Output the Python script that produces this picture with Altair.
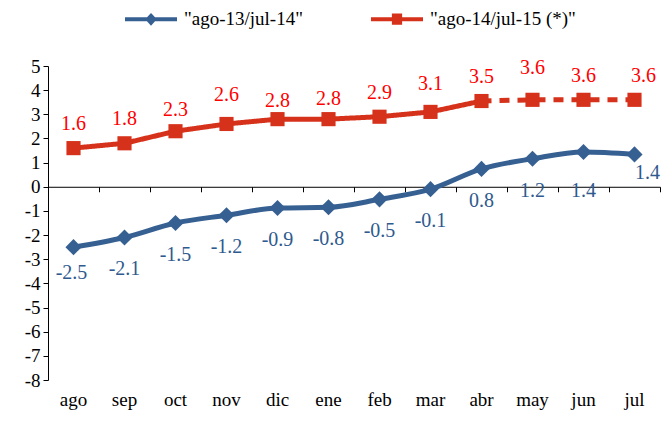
import altair as alt
import pandas as pd

months = ["ago", "sep", "oct", "nov", "dic", "ene", "feb", "mar", "abr", "may", "jun", "jul"]
series_names = ['"ago-13/jul-14"', '"ago-14/jul-15 (*)"']
blue_values = [-2.5, -2.1, -1.5, -1.18, -0.88, -0.85, -0.52, -0.1, 0.74, 1.16, 1.44, 1.34]
blue_labels = ["-2.5", "-2.1", "-1.5", "-1.2", "-0.9", "-0.8", "-0.5", "-0.1", "0.8", "1.2", "1.4", "1.4"]
red_values = [1.6, 1.8, 2.3, 2.6, 2.8, 2.8, 2.9, 3.1, 3.55, 3.6, 3.6, 3.6]
red_labels = ["1.6", "1.8", "2.3", "2.6", "2.8", "2.8", "2.9", "3.1", "3.5", "3.6", "3.6", "3.6"]
last_real_month = "abr"  # red series is projected (dashed) after this month

BLUE = "#366092"
RED = "#d6311a"
BLUE_TXT = "#2f5a8e"
RED_TXT = "#ff0000"
FONT = "Liberation Serif"

W, H = 612, 314
Y_MIN, Y_MAX = -8, 5
zero_offset = -H * (0 - Y_MIN) / (Y_MAX - Y_MIN)

# points table
pts = pd.DataFrame(
    {"series": [series_names[0]] * 12 + [series_names[1]] * 12,
     "month": months * 2,
     "value": blue_values + red_values,
     "label": blue_labels + red_labels}
)

# line table with solid/dashed segments for the red series
cut = months.index(last_real_month)
rows = []
for m, v in zip(months, blue_values):
    rows.append({"series": series_names[0], "month": m, "value": v, "seg": "real"})
for i, (m, v) in enumerate(zip(months, red_values)):
    if i <= cut:
        rows.append({"series": series_names[1], "month": m, "value": v, "seg": "real"})
    if i >= cut:
        rows.append({"series": series_names[1], "month": m, "value": v, "seg": "proy"})
lines = pd.DataFrame(rows)

xscale = alt.Scale(type="band", domain=months, paddingInner=0, paddingOuter=0)


def xenc(axis=None):
    return alt.X("month:N", sort=months, scale=xscale, bandPosition=0.5, axis=axis)


yenc = alt.Y(
    "value:Q",
    scale=alt.Scale(domain=[Y_MIN, Y_MAX], nice=False, zero=False),
    axis=alt.Axis(
        title=None, values=list(range(Y_MIN, Y_MAX + 1)), grid=False,
        domainColor="black", tickColor="black", tickSize=5, labelPadding=3,
        labelColor="black", labelFont=FONT, labelFontSize=19, labelFlush=False,
        labelExpr="'' + datum.value",
    ),
)

label_axis = alt.Axis(title=None, orient="bottom", domain=False, ticks=False, labelAngle=0,
                      labelPadding=10, labelFont=FONT, labelFontSize=19, labelColor="black")
zero_axis = alt.Axis(title=None, orient="bottom", labels=False, domain=True, domainColor="black",
                     ticks=True, tickSize=5, tickColor="black", tickBand="extent",
                     offset=zero_offset, grid=False)


def offset_expr(default, special):
    expr = str(default)
    for m, v in special.items():
        expr = f"datum.month == '{m}' ? {v} : ({expr})"
    return alt.ExprRef(expr=expr)


blue_line = alt.Chart(lines).transform_filter(
    alt.datum.series == series_names[0]
).mark_line(color=BLUE, strokeWidth=5, interpolate="monotone").encode(
    x=xenc(label_axis), y=yenc
)

red_line = alt.Chart(lines).transform_filter(
    alt.datum.series == series_names[1]
).mark_line(color=RED, strokeWidth=5).encode(
    x=xenc(zero_axis), y=yenc,
    strokeDash=alt.StrokeDash("seg:N", scale=alt.Scale(domain=["real", "proy"], range=[[1, 0], [10, 8]]),
                              legend=None),
)

blue_pts = alt.Chart(pts).transform_filter(
    alt.datum.series == series_names[0]
).mark_point(shape="diamond", filled=True, size=260, color=BLUE, opacity=1).encode(x=xenc(), y=yenc)

red_pts = alt.Chart(pts).transform_filter(
    alt.datum.series == series_names[1]
).mark_point(shape="square", filled=True, size=200, color=RED, opacity=1).encode(x=xenc(), y=yenc)

blue_txt = alt.Chart(pts).transform_filter(
    alt.datum.series == series_names[0]
).mark_text(
    font=FONT, fontSize=20, color=BLUE_TXT, baseline="middle",
    dy=offset_expr(32, {"ago": 26, "jun": 39, "jul": 19}),
    dx=offset_expr(0, {"ago": -2, "jul": 13}),
).encode(x=xenc(), y=yenc, text="label:N")

red_txt = alt.Chart(pts).transform_filter(
    alt.datum.series == series_names[1]
).mark_text(
    font=FONT, fontSize=20, color=RED_TXT, baseline="middle",
    dy=offset_expr(-24, {"nov": -29, "dic": -18, "ene": -20, "mar": -28, "may": -32, "oct": -21}),
    dx=offset_expr(0, {"jul": 9}),
).encode(x=xenc(), y=yenc, text="label:N")

diamond_path = "M-1,0L1,0M0,-0.13L0.12,0L0,0.13L-0.12,0Z"
square_path = "M-1,0L1,0M-0.12,-0.14L0.12,-0.14L0.12,0.14L-0.12,0.14Z"
leg = alt.Legend(
    title=None, orient="none", legendX=75, legendY=-75, direction="horizontal", columns=2,
    columnPadding=60, labelOffset=5, labelFont=FONT, labelFontSize=19, labelColor="black",
    symbolSize=2704, symbolStrokeWidth=4, labelLimit=400,
)
legend_layer = alt.Chart(pts).transform_filter("false").mark_point(
    filled=True, strokeWidth=4, opacity=1
).encode(
    x=xenc(), y=yenc,
    shape=alt.Shape("series:N", scale=alt.Scale(domain=series_names, range=[diamond_path, square_path]),
                    legend=leg),
    fill=alt.Fill("series:N", scale=alt.Scale(domain=series_names, range=[BLUE, RED]), legend=leg),
    stroke=alt.Stroke("series:N", scale=alt.Scale(domain=series_names, range=[BLUE, RED]), legend=leg),
)

chart = alt.layer(
    blue_line, red_line, blue_pts, red_pts, blue_txt, red_txt, legend_layer
).resolve_axis(x="independent").properties(
    width=W, height=H,
    autosize=alt.AutoSizeParams(type="none"),
    padding={"left": 40, "top": 58, "right": 2, "bottom": 33},
).configure(font=FONT).configure_view(stroke=None)

chart.save("out.html", embed_options={"renderer": "svg", "actions": False})
